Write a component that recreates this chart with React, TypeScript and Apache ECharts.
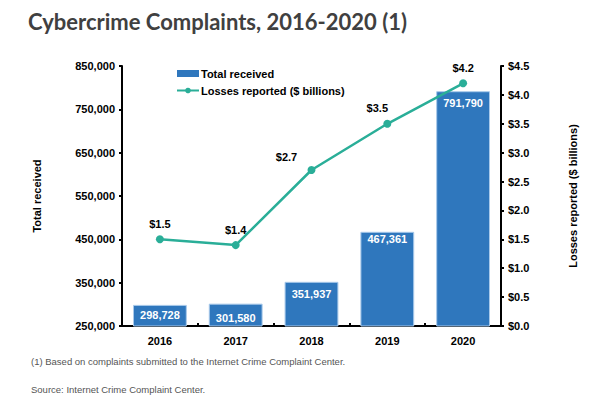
import React, { useEffect, useRef } from "react";
import * as echarts from "echarts";

const years = ["2016", "2017", "2018", "2019", "2020"];
const totalReceived = [298728, 301580, 351937, 467361, 791790];
const lossesBillions = [1.5, 1.4, 2.7, 3.5, 4.2];
const lossLabelOffsets = [[0, 0], [0, 0], [-25, 2], [-10, 0], [0, 0]];
const barLabelOffsets = [[0, -1], [0, 3], [0, 1], [0, -4], [0, 0]];

const titleText = "Cybercrime Complaints, 2016-2020 (1)";
const footnote = "(1) Based on complaints submitted to the Internet Crime Complaint Center.";
const sourceText = "Source: Internet Crime Complaint Center.";

const AXIS_FONT = "'Liberation Sans', Arial, sans-serif";

export default function App() {
  const ref = useRef<HTMLDivElement>(null);
  useEffect(() => {
    document.body.style.margin = "0";
    const chart = echarts.init(ref.current!, null, { renderer: "svg" });
    const axisText = { color: "#000", fontFamily: AXIS_FONT, fontWeight: "bold" as const, fontSize: 11 };
    chart.setOption({
      animation: false,
      backgroundColor: "#fff",
      title: [
        {
          text: titleText,
          left: 23,
          top: 5,
          textStyle: { fontFamily: "Lato, 'Open Sans', sans-serif", fontWeight: 700, fontSize: 22, color: "#404040" },
        },
        {
          text: footnote,
          left: 26,
          top: 351,
          textStyle: { fontFamily: AXIS_FONT, fontWeight: "normal", fontSize: 9.5, color: "#555" },
        },
        {
          text: sourceText,
          left: 26,
          top: 379,
          textStyle: { fontFamily: AXIS_FONT, fontWeight: "normal", fontSize: 9.5, color: "#555" },
        },
      ],
      legend: {
        orient: "vertical",
        left: 171,
        top: 63,
        itemWidth: 22,
        itemHeight: 7,
        itemGap: 6,
        textStyle: { ...axisText, padding: [0, 0, 0, -3] },
        data: [
          { name: "Total received", icon: "rect", itemStyle: { borderWidth: 0 } },
          { name: "Losses reported ($ billions)" },
        ],
      },
      grid: { left: 122, right: 101, top: 66, bottom: 71 },
      xAxis: {
        type: "category",
        data: years,
        axisLine: { lineStyle: { color: "#000", width: 2 } },
        axisTick: { show: true, inside: true, length: 3, lineStyle: { color: "#000", width: 2 } },
        axisLabel: { ...axisText, margin: 9 },
      },
      yAxis: [
        {
          type: "value",
          min: 250000,
          max: 850000,
          interval: 100000,
          name: "Total received",
          nameLocation: "middle",
          nameRotate: 90,
          nameGap: 80,
          nameTextStyle: axisText,
          splitLine: { show: false },
          axisLine: { show: true, lineStyle: { color: "#000", width: 2 } },
          axisTick: { show: true, length: 3, lineStyle: { color: "#000", width: 2 } },
          axisLabel: {
            ...axisText,
            margin: 7,
            formatter: (v: number) => v.toLocaleString("en-US"),
          },
        },
        {
          type: "value",
          min: 0,
          max: 4.5,
          interval: 0.5,
          position: "right",
          name: "Losses reported ($ billions)",
          nameLocation: "middle",
          nameRotate: 90,
          nameGap: 66,
          nameTextStyle: axisText,
          splitLine: { show: false },
          axisLine: { show: true, lineStyle: { color: "#000", width: 2 } },
          axisTick: { show: true, length: 3, lineStyle: { color: "#000", width: 2 } },
          axisLabel: {
            ...axisText,
            margin: 7,
            formatter: (v: number) => "$" + v.toFixed(1),
          },
        },
      ],
      series: [
        {
          name: "Total received",
          type: "bar",
          yAxisIndex: 0,
          barCategoryGap: "29%",
          data: totalReceived.map((v, i) => ({ value: v, label: { offset: barLabelOffsets[i] } })),
          itemStyle: { color: "#2f77bd", borderColor: "#a8c9ea", borderWidth: 1 },
          label: {
            show: true,
            position: "insideTop",
            distance: 6,
            color: "#fff",
            fontFamily: AXIS_FONT,
            fontWeight: "bold",
            fontSize: 11,
            formatter: (p: any) => Number(p.value).toLocaleString("en-US"),
          },
        },
        {
          name: "Losses reported ($ billions)",
          type: "line",
          yAxisIndex: 1,
          data: lossesBillions.map((v, i) => ({
            value: v,
            label: { offset: lossLabelOffsets[i] },
          })),
          symbol: "circle",
          symbolSize: 8,
          lineStyle: { color: "#2aae98", width: 2.5 },
          itemStyle: { color: "#2aae98" },
          label: {
            show: true,
            position: "top",
            distance: 6,
            color: "#000",
            fontFamily: AXIS_FONT,
            fontWeight: "bold",
            fontSize: 11,
            formatter: (p: any) => "$" + Number(p.value).toFixed(1),
          },
        },
      ],
    });
    return () => chart.dispose();
  }, []);
  return <div ref={ref} style={{ width: 602, height: 397 }} />;
}
